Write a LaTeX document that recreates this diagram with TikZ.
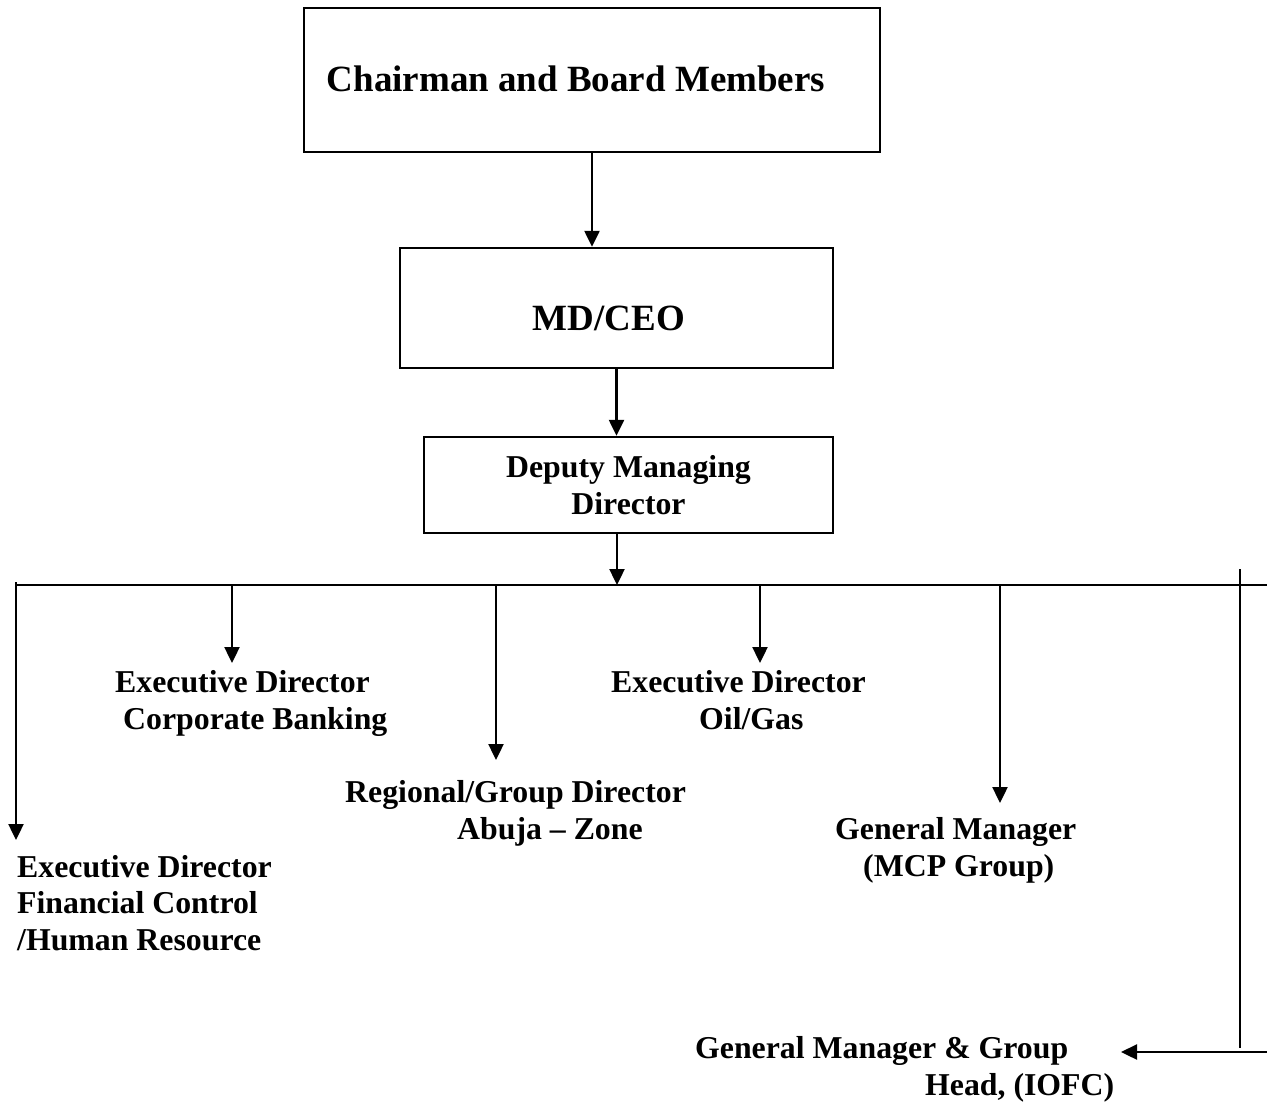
\documentclass[tikz,border=0pt]{standalone}
\usepackage{fontspec}
\setmainfont{Liberation Serif}
\usetikzlibrary{arrows.meta}
\begin{document}
\begin{tikzpicture}[x=1pt,y=-1pt,
  line/.style={line width=2.4pt},
  arr/.style={line width=2.4pt,-{Triangle[length=16pt,width=15pt]}},
  box/.style={draw,line width=2.4pt,inner sep=0pt},
  big/.style={font=\bfseries\fontsize{37}{42}\selectfont},
  lbl/.style={font=\bfseries\fontsize{31.8}{36.5}\selectfont,align=left,inner sep=0pt,anchor=base west}]
\useasboundingbox (0,0) rectangle (1267,1103);

% boxes
\node[box,big,minimum width=576pt,minimum height=144pt,text height=22pt,text depth=0pt] (chair) at (592,80) {Chairman and Board Members\hspace*{32pt}};
\node[box,big,minimum width=433pt,minimum height=120pt,text height=44pt,text depth=0pt] (md) at (616.5,308) {MD/CEO\hspace*{15pt}};
\node[box,font=\bfseries\fontsize{31.8}{37}\selectfont,align=center,minimum width=409pt,minimum height=96pt] (dep) at (628.5,485) {Deputy Managing\\Director};

% labels (anchored at the baseline of their last line)
\node[lbl] (fin) at (17,950) {Executive Director\\Financial Control\\/Human Resource};
\node[lbl] (corp) at (115,729) {Executive Director\\\hspace*{8pt}Corporate Banking};
\node[lbl] (reg) at (345,839) {Regional/Group Director\\\hspace*{112pt}Abuja -- Zone};
\node[lbl] (oil) at (611,729) {Executive Director\\\hspace*{88pt}Oil/Gas};
\node[lbl] (mcp) at (835,876) {General Manager\\\hspace*{28pt}(MCP Group)};
\node[lbl] (iofc) at (695,1095) {General Manager \& Group\\\hspace*{230pt}Head, (IOFC)};

% bus coordinates
\coordinate (busL) at (16,585);
\coordinate (busR) at (1267,585);
\coordinate (j0) at (16,582);
\coordinate (j1) at (232,585);
\coordinate (j2) at (496,585);
\coordinate (j3) at (760,585);
\coordinate (j4) at (1000,585);
\coordinate (rTop) at (1240,569);
\coordinate (rBot) at (1240,1048);
\coordinate (hR) at (1267,1052);
% arrow tips
\coordinate (t0) at (16,840);
\coordinate (t1) at (232,663);
\coordinate (t2) at (496,760);
\coordinate (t3) at (760,663);
\coordinate (t4) at (1000,803);
\coordinate (t5) at (1121,1052);

% connectors
\draw[arr] (chair.south) -- (chair.south |- md.north);
\draw[arr] (md.south) -- (md.south |- dep.north);
\draw[arr] ([xshift=-11.5pt]dep.south) -- ([xshift=-11.5pt]dep.south |- busL);
\draw[line] (busL) -- (busR);
\draw[arr] (j0) -- (t0);
\draw[arr] (j1) -- (t1);
\draw[arr] (j2) -- (t2);
\draw[arr] (j3) -- (t3);
\draw[arr] (j4) -- (t4);
\draw[line] (rTop) -- (rBot);
\draw[arr] (hR) -- (t5);
\end{tikzpicture}
\end{document}
